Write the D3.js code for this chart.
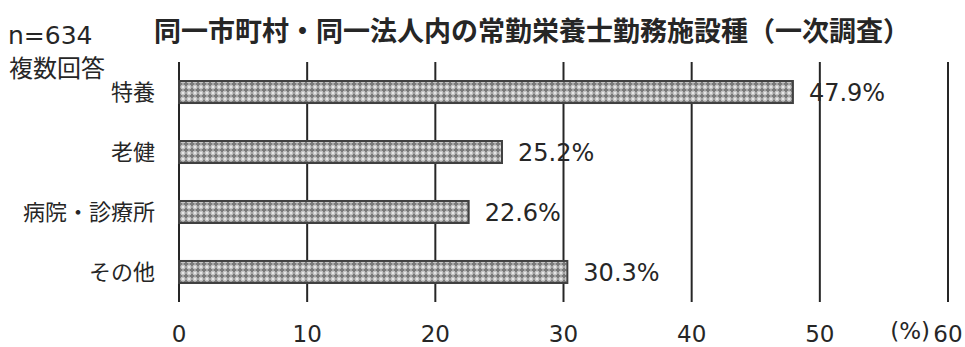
<!DOCTYPE html>
<html lang="ja">
<head>
<meta charset="utf-8">
<script src="https://cdn.jsdelivr.net/npm/d3@7"></script>
<style>
  html, body { margin: 0; padding: 0; background: #fff; }
  svg { display: block; }
  text { font-family: "DejaVu Sans", "Noto Sans CJK JP", sans-serif; fill: #262626; }
  .jp { font-family: "Noto Sans CJK JP", "DejaVu Sans", sans-serif; }
</style>
</head>
<body>
<svg id="chart" width="965" height="347"></svg>
<script>
// 施設種ごとの割合 (%)
const categories = ["特養", "老健", "病院・診療所", "その他"];
const values = [47.9, 25.2, 22.6, 30.3];
const tickValues = [0, 10, 20, 30, 40, 50, 60];
const titleText = "同一市町村・同一法人内の常勤栄養士勤務施設種（一次調査）";
const sampleText = "n=634";
const noteText = "複数回答";
const unitText = "(%)";

const svg = d3.select("#chart");
const margin = { left: 179, right: 17, top: 62, bottom: 45 };
const W = 965, H = 347;

const x = d3.scaleLinear().domain([0, 60]).range([margin.left, W - margin.right]);
const y = d3.scaleBand().domain(categories)
  .range([margin.top, H - margin.bottom])
  .paddingInner(0.633).paddingOuter(0.317);

// dotted-grid fill for the bars
const defs = svg.append("defs");
const pat = defs.append("pattern")
  .attr("id", "dots").attr("patternUnits", "userSpaceOnUse")
  .attr("width", 6).attr("height", 6);
pat.append("rect").attr("width", 6).attr("height", 6).attr("fill", "#7a7a7a");
pat.append("rect").attr("x", 2).attr("y", 0).attr("width", 2).attr("height", 6).attr("fill", "#a6a6a6");
pat.append("rect").attr("x", 0).attr("y", 2).attr("width", 6).attr("height", 2).attr("fill", "#a6a6a6");
pat.append("rect").attr("x", 1).attr("y", 1).attr("width", 4).attr("height", 4).attr("fill", "#c4c4c4");
pat.append("rect").attr("x", 2).attr("y", 2).attr("width", 2).attr("height", 2).attr("fill", "#e6e6e6");

// vertical gridlines
svg.append("g").selectAll("line").data(tickValues).join("line")
  .attr("x1", d => x(d)).attr("x2", d => x(d))
  .attr("y1", margin.top).attr("y2", H - margin.bottom)
  .attr("stroke", "#262626").attr("stroke-width", 2);

// bars
svg.append("g").selectAll("rect").data(values).join("rect")
  .attr("x", x(0))
  .attr("y", (d, i) => y(categories[i]))
  .attr("width", d => x(d) - x(0))
  .attr("height", y.bandwidth())
  .attr("fill", "url(#dots)")
  .attr("stroke", "#404040").attr("stroke-width", 2);

// value labels
svg.append("g").selectAll("text").data(values).join("text")
  .attr("x", d => x(d) + 16)
  .attr("y", (d, i) => y(categories[i]) + y.bandwidth() / 2)
  .attr("dy", "0.37em")
  .attr("font-size", 24)
  .text(d => d.toFixed(1) + "%");

// category labels
svg.append("g").selectAll("text").data(categories).join("text")
  .attr("class", "jp")
  .attr("x", 155)
  .attr("y", d => y(d) + y.bandwidth() / 2)
  .attr("dy", "0.36em")
  .attr("text-anchor", "end")
  .attr("font-size", 22)
  .text(d => d);

// x tick labels
svg.append("g").selectAll("text").data(tickValues).join("text")
  .attr("x", d => x(d))
  .attr("y", 342)
  .attr("text-anchor", "middle")
  .attr("font-size", 23)
  .text(d => d);

svg.append("text")
  .attr("x", 930).attr("y", 339)
  .attr("text-anchor", "end")
  .attr("font-size", 23)
  .text(unitText);

// title and notes
svg.append("text")
  .attr("class", "jp")
  .attr("x", 532).attr("y", 41)
  .attr("text-anchor", "middle")
  .attr("font-size", 27).attr("font-weight", "bold")
  .attr("fill", "#1a1a1a")
  .text(titleText);

svg.append("text")
  .attr("x", 8).attr("y", 44)
  .attr("font-size", 25)
  .text(sampleText);

svg.append("text")
  .attr("class", "jp")
  .attr("x", 9).attr("y", 77)
  .attr("font-size", 24)
  .text(noteText);
</script>
</body>
</html>
